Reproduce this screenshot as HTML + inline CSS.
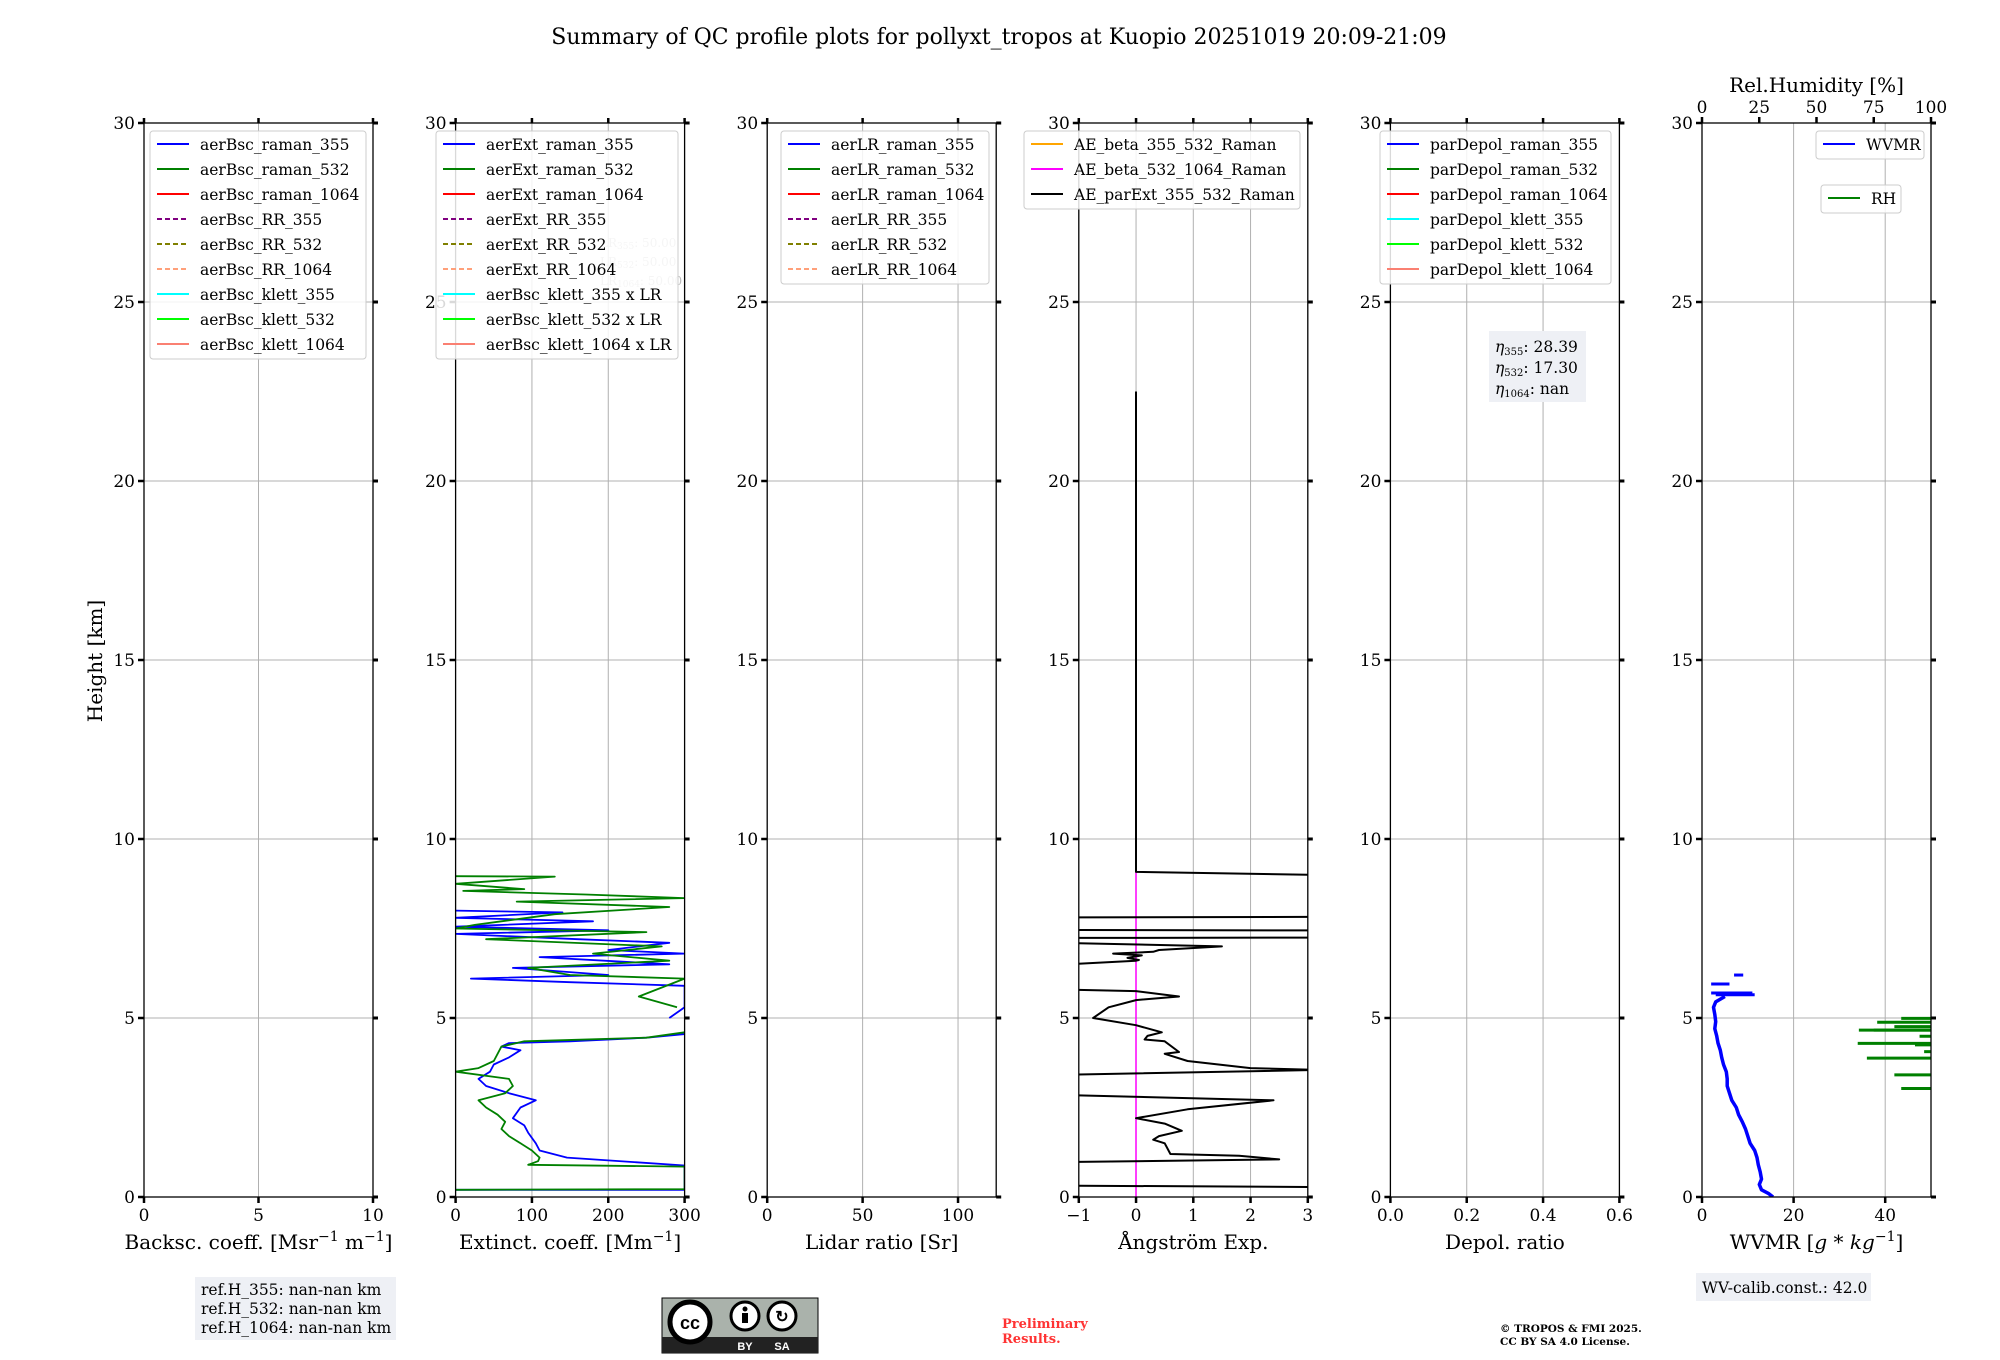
<!DOCTYPE html>
<html><head><meta charset="utf-8"><style>
html,body{margin:0;padding:0;background:#fff;}
svg{display:block;font-family:"DejaVu Serif","Liberation Serif",serif;}
</style></head><body>
<svg id="chart" width="2000" height="1360" viewBox="0 0 2000 1360" xmlns="http://www.w3.org/2000/svg">
<text x="999" y="44" text-anchor="middle" font-size="22">Summary of QC profile plots for pollyxt_tropos at Kuopio 20251019 20:09-21:09</text>
<text transform="translate(102,661) rotate(-90)" text-anchor="middle" font-size="20">Height [km]</text>
<g id="panels"></g>
<g>
<rect x="195" y="1277" width="201" height="63" fill="#eef0f5"/>
<text x="201" y="1295" font-size="15.5">ref.H_355: nan-nan km</text>
<text x="201" y="1314" font-size="15.5">ref.H_532: nan-nan km</text>
<text x="201" y="1333" font-size="15.5">ref.H_1064: nan-nan km</text>
</g>
<g>
<rect x="1696" y="1273" width="175" height="28" fill="#eef0f5"/>
<text x="1702" y="1293" font-size="15.5">WV-calib.const.: 42.0</text>
</g>
<g>
<rect x="662" y="1298" width="156" height="55" fill="#aab2ab" stroke="#000" stroke-width="1"/>
<rect x="662" y="1337" width="156" height="16" fill="#222"/>
<circle cx="690" cy="1322" r="20" fill="#fff" stroke="#000" stroke-width="5"/>
<text x="690" y="1329" text-anchor="middle" font-size="18" font-weight="bold" font-family="Liberation Sans, sans-serif">cc</text>
<circle cx="745" cy="1316" r="14" fill="#fff" stroke="#000" stroke-width="3"/>
<circle cx="745" cy="1309" r="2.5" fill="#000"/><rect x="742" y="1313" width="6" height="10" fill="#000"/>
<circle cx="782" cy="1316" r="14" fill="#fff" stroke="#000" stroke-width="3"/>
<text x="782" y="1322" text-anchor="middle" font-size="16" font-weight="bold" font-family="Liberation Sans, sans-serif">↻</text>
<text x="745" y="1350" text-anchor="middle" font-size="11" fill="#fff" font-family="Liberation Sans, sans-serif" font-weight="bold">BY</text>
<text x="782" y="1350" text-anchor="middle" font-size="11" fill="#fff" font-family="Liberation Sans, sans-serif" font-weight="bold">SA</text>
</g>
<g fill="#ff3333" font-size="13" font-weight="bold">
<text x="1002" y="1328">Preliminary</text><text x="1002" y="1343">Results.</text>
</g>
<g font-size="10.5" font-weight="bold">
<text x="1500" y="1332">© TROPOS &amp; FMI 2025.</text><text x="1500" y="1345">CC BY SA 4.0 License.</text>
</g>
</svg>
<script>
// ---- data ----
const heightTicks = [0,5,10,15,20,25,30];
const ext355H = [0.2,0.2,0.85,0.88,1.1,1.3,1.5,1.8,2.0,2.2,2.5,2.7,2.9,3.1,3.3,3.5,3.7,3.9,4.1,4.2,4.3,4.35,4.45,4.55];
const ext355V = [0,300,300,300,146,110,105,95,90,75,85,105,70,40,30,45,50,70,85,60,70,150,250,300];
const ext355UpH = [5.0,5.3,5.5,5.9,6.0,6.1,6.2,6.4,6.5,6.7,6.8,6.9,7.1,7.2,7.35,7.45,7.55,7.7,7.8,7.95,8.0];
const ext355UpV = [280,300,300,300,150,20,200,75,280,110,300,200,280,160,0,200,0,180,0,140,0];
const ext532H = [0.2,0.22,0.85,0.9,1.0,1.1,1.3,1.5,1.7,1.9,2.1,2.3,2.5,2.7,2.9,3.1,3.3,3.5,3.6,3.8,4.0,4.2,4.35,4.45,4.6];
const ext532V = [0,300,300,95,108,110,100,85,70,60,65,55,40,30,65,75,70,0,30,50,55,60,90,250,300];
const ext532UpH = [5.3,5.6,6.1,6.2,6.4,6.6,6.8,7.0,7.2,7.4,7.5,7.6,7.7,7.9,8.1,8.25,8.35,8.45,8.55,8.6,8.75,8.95,8.96];
const ext532UpV = [290,240,300,150,95,280,180,270,40,250,0,25,60,130,280,80,300,170,10,90,0,130,0];
const aeH = [22.5,9.08,8.95,7.83,7.80,7.47,7.44,7.25,7.23,7.0,6.9,6.85,6.8,6.75,6.68,6.62,6.6,6.17,5.92,5.75,5.6,5.5,5.3,5.0,4.8,4.6,4.5,4.4,4.35,4.05,4.0,3.8,3.6,3.55,3.3,3.0,2.7,2.45,2.2,2.05,1.85,1.7,1.6,1.5,1.2,1.15,1.05,0.9,0.35,0.28];
const aeV = [0,0,5,5,-5,-5,5,5,-5,1.5,0.4,0.3,-0.4,0.1,-0.15,0.05,0,-5,-5,0,0.75,0,-0.48,-0.75,0,0.45,0.2,0.15,0.5,0.75,0.5,0.9,2.0,3.2,-5,-5,2.4,0.9,0,0.5,0.8,0.4,0.3,0.5,0.6,1.8,2.5,-5,-5,3.2];
const aeB532H = [0,9.1];
const aeB532V = [0,0];
const wvH = [0,0.1,0.2,0.35,0.5,0.7,0.9,1.1,1.3,1.5,1.7,1.9,2.1,2.3,2.5,2.7,2.9,3.1,3.3,3.5,3.7,3.9,4.1,4.3,4.5,4.7,4.9,5.1,5.3,5.45,5.6];
const wvV = [15.5,14.5,13,12.5,13,12.7,12.3,12,11.5,10.5,10,9.5,8.8,8,7.5,6.5,6,5.5,5.5,5.3,4.7,4.3,4,3.5,3.2,2.8,3.0,2.8,2.5,3,5];
const wvSpikeH = [5.7,5.65,5.95,6.2];
const wvSpikeA = [2,3,2,7];
const wvSpikeB = [11,11.5,6,9];
const rhH = [4.99,4.88,4.76,4.66,4.66,4.49,4.29,4.25,4.06,3.88,3.41,3.03];
const rhV = [87,76.5,84,68.5,75,95,68,93,97,72,84,87];

// ---- layout ----
const NS="http://www.w3.org/2000/svg";
const svg=document.getElementById('chart');
const G=document.getElementById('panels');
const TOP=123, BOT=1197, W=229;
const lefts=[144,455.6,767.2,1078.8,1390.4,1702];
function yS(h){return BOT-(h/30)*(BOT-TOP);}
function mk(tag,attrs,parent){const e=document.createElementNS(NS,tag);for(const k in attrs)e.setAttribute(k,attrs[k]);(parent||G).appendChild(e);return e;}

const panels=[
 {min:0,max:10,ticks:[0,5,10],lab:['0','5','10'],title:'Backsc. coeff. [Msr<tspan dy="-8" font-size="14">−1</tspan><tspan dy="8"> m</tspan><tspan dy="-8" font-size="14">−1</tspan><tspan dy="8">]</tspan>',name:'backscatter'},
 {min:0,max:300,ticks:[0,100,200,300],lab:['0','100','200','300'],title:'Extinct. coeff. [Mm<tspan dy="-8" font-size="14">−1</tspan><tspan dy="8">]</tspan>',name:'extinction'},
 {min:0,max:120,ticks:[0,50,100],lab:['0','50','100'],title:'Lidar ratio [Sr]',name:'lidar-ratio'},
 {min:-1,max:3,ticks:[-1,0,1,2,3],lab:['−1','0','1','2','3'],title:'Ångström Exp.',name:'angstrom'},
 {min:0,max:0.6,ticks:[0,0.2,0.4,0.6],lab:['0.0','0.2','0.4','0.6'],title:'Depol. ratio',name:'depol'},
 {min:0,max:50,ticks:[0,20,40],lab:['0','20','40'],title:'WVMR [<tspan font-style="italic">g</tspan> * <tspan font-style="italic">kg</tspan><tspan dy="-8" font-size="14">−1</tspan><tspan dy="8">]</tspan>',name:'wvmr'}
];
const xs=[];
panels.forEach((p,i)=>{
 const L=lefts[i];
 const xf=v=>L+(v-p.min)/(p.max-p.min)*W;
 xs.push(xf);
 const g=mk('g',{});
 
 
 const cp=mk('clipPath',{id:'cp'+i},g);mk('rect',{x:L,y:TOP,width:W,height:BOT-TOP},cp);
 heightTicks.forEach(h=>{ if(h>0&&h<30) mk('line',{x1:L,x2:L+W,y1:yS(h),y2:yS(h),stroke:'#b0b0b0','stroke-width':1},g);});
 p.ticks.forEach(t=>{const x=xf(t); if(x>L+1&&x<L+W-1) mk('line',{x1:x,x2:x,y1:TOP,y2:BOT,stroke:'#b0b0b0','stroke-width':1},g);});
 p.g=g;p.L=L;
});
function poly(i,H,V,color,w,name){
 const p=panels[i];
 const pts=H.map((h,k)=>xs[i](V[k]).toFixed(1)+','+yS(h).toFixed(1)).join(' ');
 const e=mk('polyline',{points:pts,fill:'none',stroke:color,'stroke-width':w,'clip-path':'url(#cp'+i+')','stroke-linejoin':'round'},p.g);
 
 
}
poly(1,ext355H,ext355V,'#0000ff',1.8,'ext-355-line');
poly(1,ext355UpH,ext355UpV,'#0000ff',1.8,'ext-355-upper-line');
poly(1,ext532H,ext532V,'#008000',1.8,'ext-532-line');
poly(1,ext532UpH,ext532UpV,'#008000',1.8,'ext-532-upper-line');
poly(3,aeB532H,aeB532V,'#ff00ff',1.5,'ae-beta-532-1064-line');
poly(3,aeH,aeV,'#000000',2,'ae-parext-355-532-line');
poly(5,wvH,wvV,'#0000ff',3.5,'wvmr-line');
wvSpikeH.forEach((h,k)=>{
 const e=mk('line',{x1:xs[5](wvSpikeA[k]),x2:xs[5](wvSpikeB[k]),y1:yS(h),y2:yS(h),stroke:'#0000ff','stroke-width':3},panels[5].g);
 
 
});
const rhX=v=>lefts[5]+v/100*W;
rhH.forEach((h,k)=>{
 const e=mk('line',{x1:rhX(rhV[k]),x2:lefts[5]+W,y1:yS(h),y2:yS(h),stroke:'#008000','stroke-width':3},panels[5].g);
 
 
});
['LR<tspan font-size="9" dy="2">355</tspan><tspan dy="-2">: 50.00</tspan>','LR<tspan font-size="9" dy="2">532</tspan><tspan dy="-2">: 50.00</tspan>','LR<tspan font-size="9" dy="2">1064</tspan><tspan dy="-2">: 50.00</tspan>'].forEach((t,k)=>{
 const e=mk('text',{x:600,y:247+k*19,'font-size':12,fill:'#bbbbbb'},panels[1].g);e.innerHTML=t;
 
 
});
panels.forEach((p,i)=>{
 const L=p.L,g=p.g,xf=xs[i];
 mk('rect',{x:L,y:TOP,width:W,height:BOT-TOP,fill:'none',stroke:'#000','stroke-width':1.3},g);
 heightTicks.forEach(h=>{
  const y=yS(h);
  mk('line',{x1:L-6,x2:L,y1:y,y2:y,stroke:'#000','stroke-width':2.5},g);
  mk('line',{x1:L+W,x2:L+W+5,y1:y,y2:y,stroke:'#000','stroke-width':3},g);
  const t=mk('text',{x:L-9,y:y+6,'text-anchor':'end','font-size':17},g);t.textContent=h;
 });
 p.ticks.forEach((v,k)=>{
  const x=xf(v);
  mk('line',{x1:x,x2:x,y1:BOT,y2:BOT+6,stroke:'#000','stroke-width':2.5},g);
  if(i!==5) mk('line',{x1:x,x2:x,y1:TOP-5,y2:TOP,stroke:'#000','stroke-width':2.5},g);
  const t=mk('text',{x:x,y:BOT+24,'text-anchor':'middle','font-size':17},g);t.textContent=p.lab[k];
 });
 const xt=mk('text',{x:L+W/2,y:1249,'text-anchor':'middle','font-size':20},g);xt.innerHTML=p.title;
 
 
});
[0,25,50,75,100].forEach(v=>{
 const x=rhX(v);
 mk('line',{x1:x,x2:x,y1:TOP-6,y2:TOP,stroke:'#000','stroke-width':2.5},panels[5].g);
 const t=mk('text',{x:x,y:TOP-10,'text-anchor':'middle','font-size':17},panels[5].g);t.textContent=v;
});
const rt=mk('text',{x:lefts[5]+W/2,y:92,'text-anchor':'middle','font-size':20},panels[5].g);rt.textContent='Rel.Humidity [%]';


function legend(x,y,w,items,name){
 const g=mk('g',{});
 
 
 mk('rect',{x:x,y:y,width:w,height:items.length*25+3,rx:3,fill:'#fff','fill-opacity':0.85,stroke:'#cccccc','stroke-width':1},g);
 items.forEach((it,k)=>{
  const yy=y+13+k*25;
  mk('line',{x1:x+7,x2:x+39,y1:yy,y2:yy,stroke:it[1],'stroke-width':2,'stroke-dasharray':it[2]?'5,3':'none'},g);
  const t=mk('text',{x:x+50,y:yy+6,'font-size':15.5},g);t.textContent=it[0];
 });
}
const C=[['#0000ff',0],['#008000',0],['#ff0000',0],['#800080',1],['#808000',1],['#ffa07a',1],['#00ffff',0],['#00ff00',0],['#fa8072',0]];
legend(150,131,216,['aerBsc_raman_355','aerBsc_raman_532','aerBsc_raman_1064','aerBsc_RR_355','aerBsc_RR_532','aerBsc_RR_1064','aerBsc_klett_355','aerBsc_klett_532','aerBsc_klett_1064'].map((n,k)=>[n,C[k][0],C[k][1]]),'backscatter-legend');
legend(436,131,242,['aerExt_raman_355','aerExt_raman_532','aerExt_raman_1064','aerExt_RR_355','aerExt_RR_532','aerExt_RR_1064','aerBsc_klett_355 x LR','aerBsc_klett_532 x LR','aerBsc_klett_1064 x LR'].map((n,k)=>[n,C[k][0],C[k][1]]),'extinction-legend');
legend(781,131,208,['aerLR_raman_355','aerLR_raman_532','aerLR_raman_1064','aerLR_RR_355','aerLR_RR_532','aerLR_RR_1064'].map((n,k)=>[n,C[k][0],C[k][1]]),'lidar-ratio-legend');
legend(1024,131,276,[['AE_beta_355_532_Raman','#ffa500',0],['AE_beta_532_1064_Raman','#ff00ff',0],['AE_parExt_355_532_Raman','#000000',0]],'angstrom-legend');
const D=['#0000ff','#008000','#ff0000','#00ffff','#00ff00','#fa8072'];
legend(1380,131,231,['parDepol_raman_355','parDepol_raman_532','parDepol_raman_1064','parDepol_klett_355','parDepol_klett_532','parDepol_klett_1064'].map((n,k)=>[n,D[k],0]),'depol-legend');
legend(1816,131,108,[['WVMR','#0000ff',0]],'wvmr-legend');
legend(1821,185,80,[['RH','#008000',0]],'rh-legend');
const eb=mk('g',{});


mk('rect',{x:1489,y:331,width:97,height:71,fill:'#eef0f5'},eb);
['355: 28.39','532: 17.30','1064: nan'].forEach((s,k)=>{
 const p=s.split(':');
 const t=mk('text',{x:1495,y:352+k*21,'font-size':15.5},eb);
 t.innerHTML='<tspan font-style="italic">η</tspan><tspan font-size="10" dy="3">'+p[0]+'</tspan><tspan dy="-3">:'+p[1]+'</tspan>';
});
</script>
</body></html>
